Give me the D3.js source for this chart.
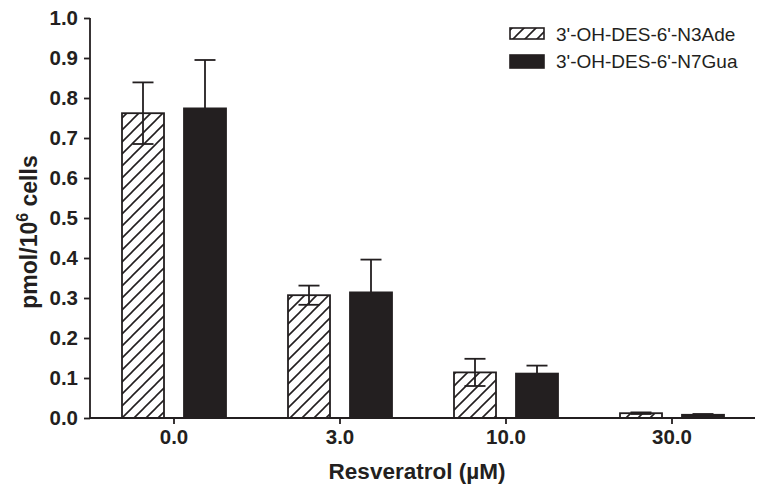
<!DOCTYPE html>
<html>
<head>
<meta charset="utf-8">
<script src="https://cdn.jsdelivr.net/npm/d3@7"></script>
<style>
  html, body { margin: 0; padding: 0; background: #fff; }
  svg { display: block; }
  text { font-family: "Liberation Sans", Arial, sans-serif; fill: #231f20; }
</style>
</head>
<body>
<svg id="chart" width="764" height="493"></svg>
<script>
const categories = ["0.0", "3.0", "10.0", "30.0"];
const seriesNames = ["3'-OH-DES-6'-N3Ade", "3'-OH-DES-6'-N7Gua"];
const n3AdeMean = [0.762, 0.307, 0.114, 0.012];
const n3AdeErr  = [0.077, 0.024, 0.034, 0.002];
const n7GuaMean = [0.774, 0.314, 0.111, 0.008];
const n7GuaErr  = [0.121, 0.082, 0.020, 0.002];
const yTicks = [0.0, 0.1, 0.2, 0.3, 0.4, 0.5, 0.6, 0.7, 0.8, 0.9, 1.0];

const ink = "#231f20";
const svg = d3.select("#chart");

const defs = svg.append("defs");
const pat = defs.append("pattern")
  .attr("id", "hatch").attr("patternUnits", "userSpaceOnUse")
  .attr("width", 12).attr("height", 12);
pat.append("rect").attr("width", 12).attr("height", 12).attr("fill", "#fff");
pat.append("path").attr("d", "M0,12 L12,0 M-3,3 L3,-3 M9,15 L15,9")
  .attr("stroke", ink).attr("stroke-width", 1.6);

const x = d3.scaleBand().domain(categories).range([91, 755]).paddingInner(0).paddingOuter(0);
const x1 = d3.scaleBand().domain(seriesNames).range([0, x.bandwidth()]).paddingInner(0.3226).paddingOuter(0.5);
const y = d3.scaleLinear().domain([0, 1]).range([418, 18]);

const data = [];
categories.forEach((c, i) => {
  data.push({cat: c, s: seriesNames[0], v: n3AdeMean[i], e: n3AdeErr[i], hatched: true});
  data.push({cat: c, s: seriesNames[1], v: n7GuaMean[i], e: n7GuaErr[i], hatched: false});
});

// hatch fill layer
svg.append("g").selectAll("rect").data(data.filter(d => d.hatched)).join("rect")
  .attr("x", d => x(d.cat) + x1(d.s))
  .attr("y", d => y(d.v))
  .attr("width", x1.bandwidth())
  .attr("height", d => y(0) - y(d.v))
  .attr("fill", "url(#hatch)");

// error bars
const eb = svg.append("g");
data.forEach(d => {
  const cx = x(d.cat) + x1(d.s) + x1.bandwidth() / 2;
  const lo = y(d.v - d.e), hi = y(d.v + d.e);
  eb.append("line").attr("x1", cx).attr("x2", cx).attr("y1", d.hatched ? lo : y(d.v)).attr("y2", hi)
    .attr("stroke", ink).attr("stroke-width", 1.8);
  eb.append("line").attr("x1", cx - 10.5).attr("x2", cx + 10.5).attr("y1", hi).attr("y2", hi)
    .attr("stroke", ink).attr("stroke-width", 1.8);
  if (d.hatched) {
    eb.append("line").attr("x1", cx - 10.5).attr("x2", cx + 10.5).attr("y1", lo).attr("y2", lo)
      .attr("stroke", ink).attr("stroke-width", 1.8);
  }
});

// bar outlines / solid bars
svg.append("g").selectAll("rect").data(data).join("rect")
  .attr("x", d => x(d.cat) + x1(d.s))
  .attr("y", d => y(d.v))
  .attr("width", x1.bandwidth())
  .attr("height", d => y(0) - y(d.v))
  .attr("fill", d => d.hatched ? "none" : ink)
  .attr("stroke", ink).attr("stroke-width", 1.8);

// axes
const yAxis = svg.append("g").attr("transform", "translate(90,0)")
  .call(d3.axisLeft(y).tickValues(yTicks).tickFormat(d3.format(".1f")).tickSize(6).tickSizeOuter(0).tickPadding(6));
const xAxis = svg.append("g").attr("transform", "translate(0,418)")
  .call(d3.axisBottom(x).tickSize(6).tickSizeOuter(0).tickPadding(5));
[yAxis, xAxis].forEach(a => {
  a.select(".domain").attr("stroke", ink).attr("stroke-width", 1.8);
  a.selectAll(".tick line").attr("stroke", ink).attr("stroke-width", 1.8);
  a.selectAll(".tick text").attr("fill", ink)
    .style("font-family", '"Liberation Sans", Arial, sans-serif')
    .style("font-size", "20.5px").style("font-weight", "bold");
});
xAxis.select(".domain").attr("d", "M90,0H755");
yAxis.select(".domain").attr("d", "M0,18V418");

// axis titles
svg.append("text").attr("x", 417).attr("y", 479).attr("text-anchor", "middle")
  .style("font-size", "22.5px").style("font-weight", "bold").text("Resveratrol (µM)");

const yl = svg.append("text").attr("transform", "translate(37,232) rotate(-90)")
  .attr("text-anchor", "middle").style("font-size", "23px").style("font-weight", "bold");
yl.append("tspan").text("pmol/10");
yl.append("tspan").attr("dy", -9).style("font-size", "16px").text("6");
yl.append("tspan").attr("dy", 9).text(" cells");

// legend
const legend = svg.append("g");
seriesNames.forEach((s, i) => {
  const gy = 28 + i * 27;
  legend.append("rect").attr("x", 510).attr("y", gy).attr("width", 34).attr("height", i === 0 ? 11 : 13)
    .attr("fill", i === 0 ? "url(#hatch)" : ink).attr("stroke", ink).attr("stroke-width", 1.6);
  legend.append("text").attr("x", 556).attr("y", gy + 12.5).style("font-size", "19px").text(s);
});
</script>
</body>
</html>
